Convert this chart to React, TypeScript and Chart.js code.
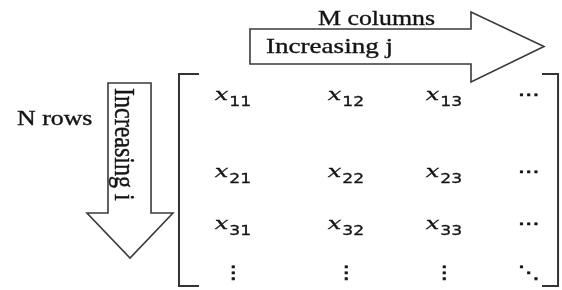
import React, { useEffect, useRef } from "react";
import { Chart, registerables } from "chart.js";

Chart.register(...registerables);

// ---- data (matrix indices and labels) ----
const ROW_INDEX = ["1", "2", "3"];
const COL_INDEX = ["1", "2", "3"];
const ROW_POS = [1, 2.51, 3.53, 4.49]; // row positions in row units (last = continuation row)
const COL_POS = [1, 2.07, 3, 3.8]; // column positions in column units (last = continuation column)
const ELLIPSIS_H = "\u22EF";
const ELLIPSIS_V = "\u22EE";
const ELLIPSIS_D = "\u22F1";
const TOP_LABEL = "M columns";
const TOP_ARROW_LABEL = "Increasing j";
const LEFT_LABEL = "N rows";
const LEFT_ARROW_LABEL = "Increasing i";

// ---- layout (in scale units) ----
const X_MIN = -1.2085, X_MAX = 4.1185;
const Y_MIN = -0.9608, Y_MAX = 4.7255;
const H_ARROW = { x0: 1.161, xh: 3.256, xt: 3.948, y0: -0.392, y1: 0.294, yh0: -0.725, yh1: 0.647, yt: -0.049 };
const V_ARROW = { y0: 0.667, yh: 3.216, yt: 4.098, x0: -0.185, x1: 0.223, xh0: -0.384, xh1: 0.431, xt: 0.024 };
const BRACKET = { l: 0.488, lt: 0.678, r: 4.081, rt: 3.929, t: 0.49, b: 4.647 };
const LABEL_POS = {
  top: { x: 1.806, y: -0.471 },
  topArrow: { x: 1.313, y: 0.078 },
  left: { x: -1.047, y: 1.49 },
  leftArrow: { x: -0.118, y: 0.765 },
};

const SX = 1.23; // horizontal stretch of the original picture
const INK = "#141414";
const LINE = "#3a3a3a";

type Pt = { x: number; y: number; label: string; sub?: string };

function buildPoints(): Pt[] {
  const pts: Pt[] = [];
  for (let r = 0; r < ROW_POS.length; r++) {
    for (let c = 0; c < COL_POS.length; c++) {
      let label = "x";
      let sub: string | undefined;
      if (r < ROW_INDEX.length && c < COL_INDEX.length) {
        sub = ROW_INDEX[r] + COL_INDEX[c];
      } else if (r < ROW_INDEX.length) {
        label = ELLIPSIS_H;
      } else if (c < COL_INDEX.length) {
        label = ELLIPSIS_V;
      } else {
        label = ELLIPSIS_D;
      }
      pts.push({ x: COL_POS[c], y: ROW_POS[r], label, sub });
    }
  }
  return pts;
}

const diagramPlugin = {
  id: "matrixDiagram",
  afterDatasetsDraw(chart: any) {
    const ctx: CanvasRenderingContext2D = chart.ctx;
    const xs = chart.scales.x;
    const ys = chart.scales.y;
    const px = (v: number) => xs.getPixelForValue(v);
    const py = (v: number) => ys.getPixelForValue(v);

    ctx.save();
    // arrows
    ctx.lineJoin = "miter";
    ctx.strokeStyle = LINE;
    ctx.fillStyle = "#ffffff";
    ctx.lineWidth = 1.6;
    const a = H_ARROW;
    ctx.beginPath();
    ctx.moveTo(px(a.x0), py(a.y0));
    ctx.lineTo(px(a.xh), py(a.y0));
    ctx.lineTo(px(a.xh), py(a.yh0));
    ctx.lineTo(px(a.xt), py(a.yt));
    ctx.lineTo(px(a.xh), py(a.yh1));
    ctx.lineTo(px(a.xh), py(a.y1));
    ctx.lineTo(px(a.x0), py(a.y1));
    ctx.closePath();
    ctx.fill();
    ctx.stroke();

    const v = V_ARROW;
    ctx.beginPath();
    ctx.moveTo(px(v.x0), py(v.y0));
    ctx.lineTo(px(v.x1), py(v.y0));
    ctx.lineTo(px(v.x1), py(v.yh));
    ctx.lineTo(px(v.xh1), py(v.yh));
    ctx.lineTo(px(v.xt), py(v.yt));
    ctx.lineTo(px(v.xh0), py(v.yh));
    ctx.lineTo(px(v.x0), py(v.yh));
    ctx.closePath();
    ctx.fill();
    ctx.stroke();

    // brackets
    const b = BRACKET;
    ctx.lineWidth = 2;
    ctx.strokeStyle = "#333333";
    ctx.beginPath();
    ctx.moveTo(px(b.lt), py(b.t));
    ctx.lineTo(px(b.l), py(b.t));
    ctx.lineTo(px(b.l), py(b.b));
    ctx.lineTo(px(b.lt), py(b.b));
    ctx.stroke();
    ctx.beginPath();
    ctx.moveTo(px(b.rt), py(b.t));
    ctx.lineTo(px(b.r), py(b.t));
    ctx.lineTo(px(b.r), py(b.b));
    ctx.lineTo(px(b.rt), py(b.b));
    ctx.stroke();

    // labels
    ctx.fillStyle = INK;
    ctx.strokeStyle = INK;
    ctx.textBaseline = "alphabetic";
    ctx.textAlign = "left";
    const stretchText = (t: string, font: string, x: number, y: number, sx = SX, thick = 0.35) => {
      ctx.save();
      ctx.font = font;
      ctx.translate(x, y);
      ctx.scale(sx, 1);
      ctx.fillText(t, 0, 0);
      if (thick > 0) {
        ctx.lineWidth = thick;
        ctx.strokeText(t, 0, 0);
      }
      ctx.restore();
    };
    const serif = '"Liberation Serif", "Times New Roman", serif';
    stretchText(TOP_LABEL, `21px ${serif}`, px(LABEL_POS.top.x), py(LABEL_POS.top.y));
    stretchText(TOP_ARROW_LABEL, `22px ${serif}`, px(LABEL_POS.topArrow.x), py(LABEL_POS.topArrow.y));
    stretchText(LEFT_LABEL, `21px ${serif}`, px(LABEL_POS.left.x), py(LABEL_POS.left.y));

    // vertical label (reads top to bottom)
    ctx.save();
    ctx.font = `24px ${serif}`;
    ctx.translate(px(LABEL_POS.leftArrow.x), py(LABEL_POS.leftArrow.y));
    ctx.rotate(Math.PI / 2);
    ctx.scale(1, SX);
    ctx.fillText(LEFT_ARROW_LABEL, 0, 0);
    ctx.lineWidth = 0.35;
    ctx.strokeText(LEFT_ARROW_LABEL, 0, 0);
    ctx.restore();

    // matrix entries
    const meta = chart.getDatasetMeta(0);
    const data: Pt[] = chart.data.datasets[0].data;
    const X_SX = 1.5;
    const xFont = 'italic 16px "DejaVu Serif", serif';
    const subFont = '14px "DejaVu Sans", sans-serif';
    const dotFont = '17px "DejaVu Sans", sans-serif';
    meta.data.forEach((el: any, i: number) => {
      const d = data[i];
      const cx = el.x;
      const cy = el.y;
      if (d.sub) {
        ctx.font = xFont;
        const w1 = ctx.measureText(d.label).width * X_SX;
        ctx.font = subFont;
        const w2 = ctx.measureText(d.sub).width * SX;
        const total = w1 + 1 + w2;
        const x0 = cx - total / 2;
        stretchText(d.label, xFont, x0, cy, X_SX, 0.3);
        stretchText(d.sub, subFont, x0 + w1 + 1, cy + 6, SX, 0.3);
      } else {
        ctx.font = dotFont;
        const w = ctx.measureText(d.label).width * SX;
        stretchText(d.label, dotFont, cx - w / 2, cy, SX, 0.8);
      }
    });
    ctx.restore();
  },
};

export default function App() {
  const ref = useRef<HTMLCanvasElement | null>(null);
  useEffect(() => {
    document.body.style.margin = "0";
    const canvas = ref.current;
    if (!canvas) return;
    const chart = new Chart(canvas, {
      type: "scatter",
      data: {
        datasets: [
          {
            data: buildPoints() as any,
            pointRadius: 0,
            pointHoverRadius: 0,
            showLine: false,
          },
        ],
      },
      options: {
        animation: false,
        responsive: false,
        devicePixelRatio: 1,
        layout: { padding: 0 },
        plugins: { legend: { display: false }, tooltip: { enabled: false } },
        events: [],
        scales: {
          x: { type: "linear", min: X_MIN, max: X_MAX, display: false },
          y: { type: "linear", min: Y_MIN, max: Y_MAX, reverse: true, display: false },
        },
      },
      plugins: [diagramPlugin],
    });
    return () => chart.destroy();
  }, []);
  return (
    <div style={{ width: 562, height: 290, background: "#ffffff" }}>
      <canvas ref={ref} width={562} height={290} style={{ display: "block" }} />
    </div>
  );
}
